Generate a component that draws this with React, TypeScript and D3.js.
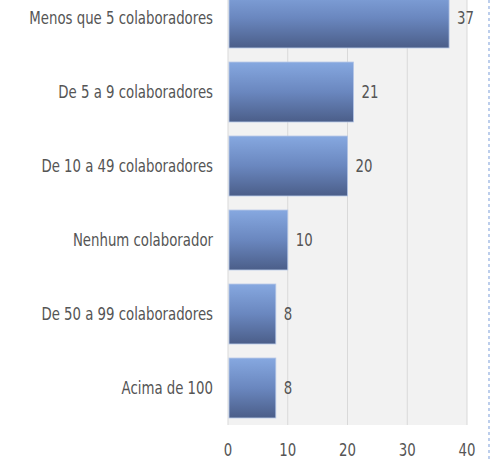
import React from 'react';
import * as d3 from 'd3';

// survey: number of employees per company
const categories = [
  'Menos que 5 colaboradores',
  'De 5 a 9 colaboradores',
  'De 10 a 49 colaboradores',
  'Nenhum colaborador',
  'De 50 a 99 colaboradores',
  'Acima de 100',
];
const values = [37, 21, 20, 10, 8, 8];
const ticks = [0, 10, 20, 30, 40];

const W = 490, H = 462;
const FONT = '"Liberation Sans Narrow", "DejaVu Sans Condensed", sans-serif';
const SX = 0.87; // squeeze text horizontally, the original font is narrow

function Label({ x, y, anchor = 'start', children }: { x: number; y: number; anchor?: string; children: React.ReactNode }) {
  return (
    <text transform={`translate(${x},${y}) scale(${SX},1)`} dy="0.36em" textAnchor={anchor}
      fontFamily={FONT} fontSize={17} fill="#555">{children}</text>
  );
}

export default function App() {
  const x = d3.scaleLinear().domain([0, 40]).range([228, 467]);
  const y = d3.scaleBand<string>().domain(categories).range([-19, 425]).paddingInner(0.19).paddingOuter(0.095);

  return (
    <svg width={W} height={H} style={{ position: 'absolute', left: 0, top: 0, background: '#fff' }}>
      <defs>
        <linearGradient id="barGrad" x1="0" y1="0" x2="0" y2="1">
          <stop offset="0" stopColor="#86a8e0" />
          <stop offset="0.5" stopColor="#6a87bf" />
          <stop offset="1" stopColor="#4b5e89" />
        </linearGradient>
      </defs>
      <rect x={x(0)} y={-19} width={x(40) - x(0)} height={425 + 19} fill="#f2f2f2" />
      {ticks.map(t => (
        <line key={t} x1={x(t)} x2={x(t)} y1={-19} y2={425} stroke="#d9d9d9" strokeWidth={1} />
      ))}
      {categories.map((c, i) => {
        const cy = y(c)! + y.bandwidth() / 2;
        return (
          <g key={c}>
            <rect
              x={x(0) + 1}
              y={y(c)}
              width={x(values[i]) - x(0) - 1}
              height={y.bandwidth()}
              fill="url(#barGrad)"
              stroke="#b3c5e6"
              strokeWidth={0.8}
            />
            <Label x={x(values[i]) + 8} y={cy}>{values[i]}</Label>
            <Label x={213} y={cy} anchor="end">{c}</Label>
          </g>
        );
      })}
      {ticks.map(t => (
        <Label key={t} x={x(t)} y={450} anchor="middle">{t}</Label>
      ))}
      <line x1={489} x2={489} y1={0} y2={H} stroke="#a6bfe6" strokeWidth={1.5} strokeDasharray="3,3" />
    </svg>
  );
}
